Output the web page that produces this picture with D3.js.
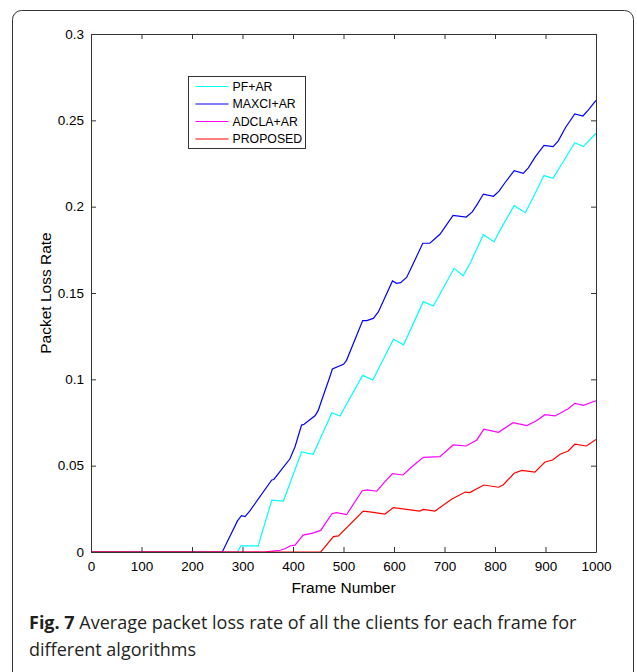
<!DOCTYPE html>
<html>
<head>
<meta charset="utf-8">
<script src="https://cdn.jsdelivr.net/npm/d3@7"></script>
<style>
  body { margin: 0; background: #fff; }
  svg { display: block; }
</style>
</head>
<body>
<script>
// Series (frame number, packet loss rate)
const pfFrames = [0, 290, 297, 331, 358, 381, 417, 440, 477, 493, 538, 558, 599, 619, 658, 678, 719, 737, 752, 777, 798, 815, 838, 860, 875, 897, 915, 935, 958, 975, 1000];
const pfValues = [0, 0, 0.0035, 0.0035, 0.030, 0.0295, 0.058, 0.0566, 0.0807, 0.0788, 0.1023, 0.0996, 0.1232, 0.120, 0.145, 0.1425, 0.1643, 0.160, 0.168, 0.1838, 0.1797, 0.189, 0.2006, 0.1965, 0.205, 0.218, 0.2164, 0.226, 0.237, 0.2348, 0.2425];

const maxciFrames = [0, 260, 290, 298, 305, 315, 358, 362, 394, 404, 417, 422, 444, 450, 457, 473, 478, 500, 506, 538, 546, 559, 569, 597, 605, 613, 625, 638, 657, 671, 691, 717, 743, 755, 765, 777, 797, 808, 820, 838, 856, 866, 880, 897, 915, 925, 940, 958, 974, 985, 1000];
const maxciValues = [0, 0, 0.018, 0.021, 0.0205, 0.024, 0.0417, 0.042, 0.054, 0.061, 0.0735, 0.074, 0.079, 0.082, 0.088, 0.1015, 0.106, 0.1087, 0.111, 0.134, 0.134, 0.1353, 0.139, 0.157, 0.1556, 0.156, 0.159, 0.167, 0.1788, 0.1788, 0.184, 0.195, 0.194, 0.197, 0.2015, 0.2073, 0.206, 0.209, 0.214, 0.2208, 0.2193, 0.2225, 0.229, 0.2355, 0.2348, 0.238, 0.246, 0.2537, 0.2525, 0.256, 0.2615];

const adclaFrames = [0, 343, 360, 375, 385, 394, 404, 420, 437, 455, 477, 486, 506, 537, 547, 566, 579, 597, 618, 632, 658, 691, 717, 743, 764, 778, 807, 836, 863, 882, 899, 919, 945, 958, 975, 1000];
const adclaValues = [0, 0, 0.0005, 0.001, 0.002, 0.0035, 0.004, 0.0098, 0.0108, 0.0125, 0.0222, 0.0228, 0.0216, 0.0355, 0.036, 0.0352, 0.0398, 0.0454, 0.0446, 0.0485, 0.0548, 0.0552, 0.062, 0.0614, 0.0649, 0.0712, 0.0693, 0.0749, 0.0732, 0.076, 0.0795, 0.0788, 0.083, 0.0861, 0.0849, 0.0876];

const proposedFrames = [0, 455, 480, 490, 539, 552, 582, 599, 651, 658, 681, 714, 741, 750, 778, 807, 816, 838, 853, 879, 899, 914, 929, 945, 958, 981, 1000];
const proposedValues = [0, 0, 0.0089, 0.0093, 0.0237, 0.0232, 0.022, 0.0257, 0.0237, 0.0247, 0.0237, 0.0305, 0.0347, 0.0344, 0.0388, 0.0375, 0.0388, 0.0456, 0.0473, 0.0463, 0.0521, 0.0533, 0.0566, 0.0585, 0.0624, 0.0614, 0.0652];

const seriesNames = ["PF+AR", "MAXCI+AR", "ADCLA+AR", "PROPOSED"];
const seriesColors = ["#00ffff", "#0000ff", "#ff00ff", "#ff0000"];

const xTicks = [0, 100, 200, 300, 400, 500, 600, 700, 800, 900, 1000];
const yTicks = [0, 0.05, 0.1, 0.15, 0.2, 0.25, 0.3];
const yTickLabels = ["0", "0.05", "0.1", "0.15", "0.2", "0.25", "0.3"];

// Page and plot box
const width = 637;
const height = 672;
const plot = { left: 91, top: 34, right: 596, bottom: 552 };

const svg = d3.select("body").append("svg")
  .attr("width", width)
  .attr("height", height);

// Outer figure frame with rounded corners
svg.append("rect")
  .attr("x", 12.5)
  .attr("y", 10.5)
  .attr("width", 621)
  .attr("height", 700)
  .attr("rx", 9)
  .attr("fill", "none")
  .attr("stroke", "#333")
  .attr("stroke-width", 1);

const x = d3.scaleLinear().domain([0, 1000]).range([plot.left, plot.right]);
const y = d3.scaleLinear().domain([0, 0.3]).range([plot.bottom, plot.top]);

// Lines
const line = d3.line()
  .x(d => x(d[0]))
  .y(d => y(d[1]));

const series = [
  d3.zip(pfFrames, pfValues),
  d3.zip(maxciFrames, maxciValues),
  d3.zip(adclaFrames, adclaValues),
  d3.zip(proposedFrames, proposedValues)
];

svg.append("g")
  .selectAll("path")
  .data(series)
  .enter().append("path")
  .attr("d", line)
  .attr("fill", "none")
  .attr("stroke", (d, i) => seriesColors[i])
  .attr("stroke-width", 1.2);

// Axes, MATLAB style: ticks pointing inward on all four sides
const axisFont = "'Liberation Sans', Arial, sans-serif";

const xAxis = svg.append("g")
  .attr("transform", `translate(0,${plot.bottom})`)
  .call(d3.axisBottom(x).tickValues(xTicks).tickFormat(d3.format("d"))
    .tickSizeInner(-5).tickSizeOuter(0).tickPadding(9));

const xAxisTop = svg.append("g")
  .attr("transform", `translate(0,${plot.top})`)
  .call(d3.axisTop(x).tickValues(xTicks).tickFormat("")
    .tickSizeInner(-5).tickSizeOuter(0));

const yAxis = svg.append("g")
  .attr("transform", `translate(${plot.left},0)`)
  .call(d3.axisLeft(y).tickValues(yTicks).tickFormat((d, i) => yTickLabels[i])
    .tickSizeInner(-5).tickSizeOuter(0).tickPadding(7));

const yAxisRight = svg.append("g")
  .attr("transform", `translate(${plot.right},0)`)
  .call(d3.axisRight(y).tickValues(yTicks).tickFormat("")
    .tickSizeInner(-5).tickSizeOuter(0));

[xAxis, xAxisTop, yAxis, yAxisRight].forEach(g => {
  g.select(".domain").attr("stroke", "#333");
  g.selectAll(".tick line").attr("stroke", "#333");
  g.selectAll(".tick text")
    .attr("fill", "#000")
    .style("font-family", axisFont)
    .style("font-size", "13.5px");
});

// Axis titles
svg.append("text")
  .attr("x", (plot.left + plot.right) / 2)
  .attr("y", 593)
  .attr("text-anchor", "middle")
  .style("font-family", axisFont)
  .style("font-size", "15.5px")
  .text("Frame Number");

svg.append("text")
  .attr("transform", `translate(51,${(plot.top + plot.bottom) / 2}) rotate(-90)`)
  .attr("text-anchor", "middle")
  .style("font-family", axisFont)
  .style("font-size", "15.5px")
  .text("Packet Loss Rate");

// Legend
const legend = svg.append("g").attr("transform", "translate(188.5,76.5)");

legend.append("rect")
  .attr("width", 117)
  .attr("height", 72)
  .attr("fill", "#fff")
  .attr("stroke", "#333")
  .attr("stroke-width", 1);

const items = legend.selectAll("g.item")
  .data(seriesNames)
  .enter().append("g")
  .attr("class", "item")
  .attr("transform", (d, i) => `translate(0,${10 + i * 17.5})`);

items.append("line")
  .attr("x1", 7).attr("x2", 40)
  .attr("stroke", (d, i) => seriesColors[i])
  .attr("stroke-width", 1.2);

items.append("text")
  .attr("x", 44)
  .attr("dy", "0.36em")
  .style("font-family", axisFont)
  .style("font-size", "12.3px")
  .text(d => d);

// Caption
const caption = svg.append("text")
  .attr("x", 29)
  .attr("y", 629)
  .attr("fill", "#231f20")
  .style("font-family", "'Open Sans', sans-serif")
  .style("font-size", "18px");

caption.append("tspan").style("font-weight", "bold").text("Fig. 7");
caption.append("tspan").text(" Average packet loss rate of all the clients for each frame for");

svg.append("text")
  .attr("x", 29)
  .attr("y", 656)
  .attr("fill", "#231f20")
  .style("font-family", "'Open Sans', sans-serif")
  .style("font-size", "18px")
  .text("different algorithms");
</script>
</body>
</html>
